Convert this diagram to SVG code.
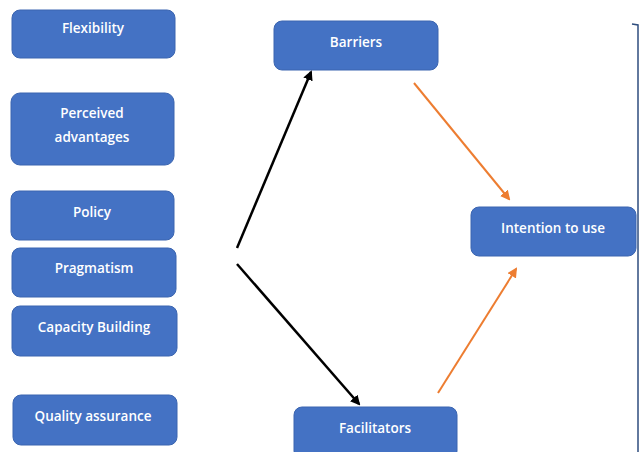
<svg xmlns="http://www.w3.org/2000/svg" width="644" height="452" viewBox="0 0 644 452">
  <style>
    .box { fill: #4472C4; stroke: #3B65B0; stroke-width: 1; }
    .lbl { fill: #FFFFFF; font-family: "Open Sans", "Liberation Sans", sans-serif; font-size: 13.5px; font-weight: 600; text-anchor: middle; }
    .dark { stroke: #000000; stroke-width: 2.5; fill: none; }
    .orange { stroke: #ED7D31; stroke-width: 2; fill: none; }
  </style>
  <defs>
    <marker id="arrow-black" viewBox="0 0 10 10" refX="8" refY="5" markerWidth="4" markerHeight="4" orient="auto">
      <path d="M0,0 L10,5 L0,10 z" fill="#000000"/>
    </marker>
    <marker id="arrow-orange" viewBox="0 0 10 10" refX="8" refY="5" markerWidth="5" markerHeight="5" orient="auto">
      <path d="M0,0 L10,5 L0,10 z" fill="#ED7D31"/>
    </marker>
  </defs>
  <rect width="644" height="452" fill="#FFFFFF"/>

  <!-- right-hand bracket -->
  <path d="M632,24 L638,25 L638,452" fill="none" stroke="#2F4E7F" stroke-width="1.5"/>

  <!-- factor boxes on the left -->
  <g id="flexibility">
    <rect class="box" x="12" y="10" width="163" height="48" rx="8"/>
    <text class="lbl" x="93" y="33">Flexibility</text>
  </g>
  <g id="perceived-advantages">
    <rect class="box" x="11" y="93" width="163" height="72" rx="9"/>
    <text class="lbl" x="92" y="118">Perceived</text>
    <text class="lbl" x="92" y="142">advantages</text>
  </g>
  <g id="policy">
    <rect class="box" x="11" y="191" width="163" height="49" rx="8"/>
    <text class="lbl" x="92" y="217">Policy</text>
  </g>
  <g id="pragmatism">
    <rect class="box" x="12" y="248" width="164" height="49" rx="8"/>
    <text class="lbl" x="94" y="273">Pragmatism</text>
  </g>
  <g id="capacity-building">
    <rect class="box" x="12" y="306" width="165" height="50" rx="8"/>
    <text class="lbl" x="94" y="332">Capacity Building</text>
  </g>
  <g id="quality-assurance">
    <rect class="box" x="13" y="395" width="164" height="50" rx="8"/>
    <text class="lbl" x="93" y="421">Quality assurance</text>
  </g>

  <!-- outcome boxes -->
  <g id="barriers">
    <rect class="box" x="274" y="21" width="164" height="49" rx="8"/>
    <text class="lbl" x="356" y="47">Barriers</text>
  </g>
  <g id="intention-to-use">
    <rect class="box" x="471" y="207" width="165" height="49" rx="8"/>
    <text class="lbl" x="553" y="233">Intention to use</text>
  </g>
  <g id="facilitators">
    <rect class="box" x="294" y="407" width="163" height="52" rx="8"/>
    <text class="lbl" x="375" y="433">Facilitators</text>
  </g>

  <!-- connectors -->
  <g id="connectors">
    <line class="dark" x1="237" y1="248" x2="311" y2="72" marker-end="url(#arrow-black)"/>
    <line class="dark" x1="237" y1="264" x2="359" y2="404" marker-end="url(#arrow-black)"/>
    <line class="orange" x1="414" y1="83" x2="509" y2="199" marker-end="url(#arrow-orange)"/>
    <line class="orange" x1="438" y1="393" x2="516" y2="269" marker-end="url(#arrow-orange)"/>
  </g>
</svg>
